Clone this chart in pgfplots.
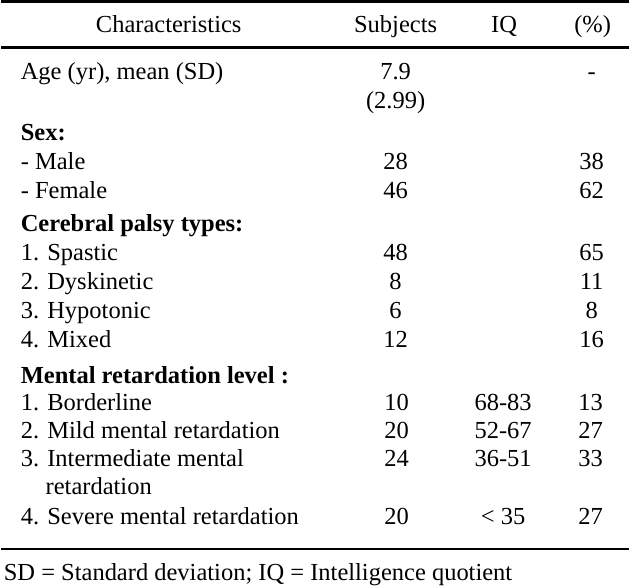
\documentclass[border=0pt]{standalone}
\usepackage{fontspec}
\setmainfont{Liberation Serif}
\usepackage{pgfplots}
\pgfplotsset{compat=1.18}
\begin{document}
\begin{tikzpicture}[font=\fontsize{12.3}{14.5}\selectfont]
\begin{axis}[scale only axis, width=315pt, height=294pt,
  xmin=0, xmax=630, ymin=0, ymax=588, y dir=reverse,
  hide axis, clip=false]
\path (axis cs:0,0) rectangle (axis cs:630,588);
% rules
\draw[line width=1.3pt] (axis cs:0,1.3) -- (axis cs:630,1.3);
\draw[line width=1.5pt] (axis cs:0,48) -- (axis cs:630,48);
\draw[line width=1pt] (axis cs:0,552) -- (axis cs:630,552);
\tikzset{L/.style={anchor=base west, inner sep=0pt}, C/.style={anchor=base, inner sep=0pt}}
% header
\node[C] at (axis cs:168,33) {Characteristics};
\node[C] at (axis cs:396,33) {Subjects};
\node[C] at (axis cs:505,33) {IQ};
\node[C] at (axis cs:594,33) {(\%)};
% rows
\node[L] at (axis cs:19,80) {Age (yr), mean (SD)};
\node[C] at (axis cs:396,80) {7.9};
\node[C] at (axis cs:396,109) {(2.99)};
\node[C] at (axis cs:593,80) {-};
\node[L] at (axis cs:19,141) {\bfseries Sex:};
\node[L] at (axis cs:19,170) {- Male};
\node[C] at (axis cs:396,170) {28};
\node[C] at (axis cs:593,170) {38};
\node[L] at (axis cs:19,199) {- Female};
\node[C] at (axis cs:396,199) {46};
\node[C] at (axis cs:593,199) {62};
\node[L] at (axis cs:19,233) {\bfseries Cerebral palsy types:};
\node[L] at (axis cs:19,262) {1. Spastic};
\node[C] at (axis cs:396,262) {48};
\node[C] at (axis cs:593,262) {65};
\node[L] at (axis cs:19,291) {2. Dyskinetic};
\node[C] at (axis cs:396,291) {8};
\node[C] at (axis cs:593,291) {11};
\node[L] at (axis cs:19,320) {3. Hypotonic};
\node[C] at (axis cs:396,320) {6};
\node[C] at (axis cs:593,320) {8};
\node[L] at (axis cs:19,349) {4. Mixed};
\node[C] at (axis cs:396,349) {12};
\node[C] at (axis cs:593,349) {16};
\node[L] at (axis cs:19,385) {\bfseries Mental retardation level :};
\node[L] at (axis cs:19,412) {1. Borderline};
\node[C] at (axis cs:397,412) {10};
\node[C] at (axis cs:504,412) {68-83};
\node[C] at (axis cs:592,412) {13};
\node[L] at (axis cs:19,441) {2. Mild mental retardation};
\node[C] at (axis cs:397,441) {20};
\node[C] at (axis cs:504,441) {52-67};
\node[C] at (axis cs:592,441) {27};
\node[L] at (axis cs:19,469) {3. Intermediate mental};
\node[C] at (axis cs:397,469) {24};
\node[C] at (axis cs:504,469) {36-51};
\node[C] at (axis cs:592,469) {33};
\node[L] at (axis cs:44,497) {retardation};
\node[L] at (axis cs:19,527) {4. Severe mental retardation};
\node[C] at (axis cs:397,527) {20};
\node[C] at (axis cs:504,527) {< 35};
\node[C] at (axis cs:592,527) {27};
% footnote
\node[L] at (axis cs:2,583) {SD = Standard deviation; IQ = Intelligence quotient};
\end{axis}
\end{tikzpicture}
\end{document}
